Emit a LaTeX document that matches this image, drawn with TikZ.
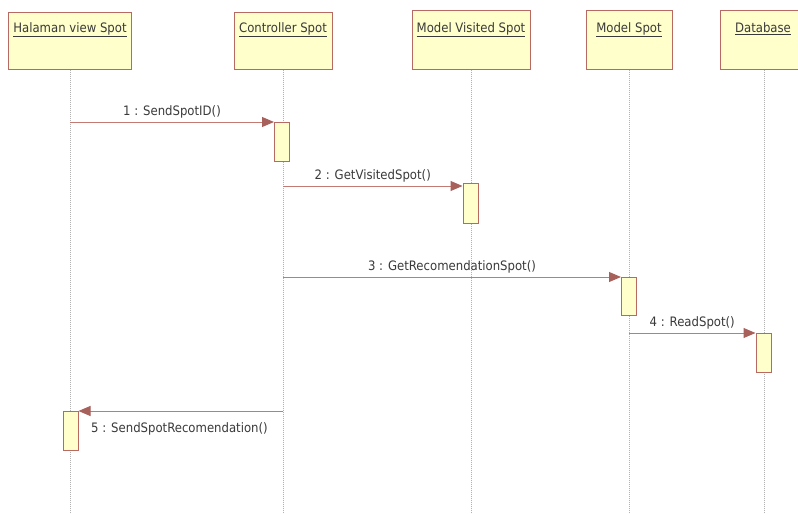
\documentclass[tikz,border=0pt]{standalone}
\usepackage{fontspec}
\setmainfont{DejaVu Sans Condensed}
\usetikzlibrary{arrows.meta}
\definecolor{boxfill}{HTML}{FFFFCC}
\definecolor{boxedge}{HTML}{B86A62}
\definecolor{msgline}{HTML}{C27A72}
\definecolor{msghead}{HTML}{A8605A}
\definecolor{txt}{HTML}{3A3A3A}
\tikzset{
  lifebox/.style={draw=boxedge, fill=boxfill, line width=1pt, inner sep=0pt},
  actbox/.style={draw=boxedge, fill=boxfill, line width=1pt, inner sep=0pt,
    minimum width=15pt},
  lifeline/.style={draw=gray!60, line width=0.8pt, dash pattern=on 1pt off 1pt},
  msg/.style={draw=msgline, line width=1pt,
    -{Triangle[length=12pt, width=10pt, fill=msghead, color=msghead]}},
  title/.style={text=txt, font=\fontsize{13}{15}\selectfont, inner sep=0pt,
    anchor=base},
  msglabel/.style={text=txt, font=\fontsize{13}{15}\selectfont, inner sep=0pt},
}
\newcommand{\uline}[1]{\underline{#1}}
\begin{document}
\begin{tikzpicture}[x=1pt, y=-1pt]
\useasboundingbox (0,0) rectangle (798,514);
\clip (0,0) rectangle (798,514);
\fill[white] (0,0) rectangle (798,514);

% object boxes
\node[lifebox, minimum width=123pt, minimum height=57pt] (hv) at (70,40.5) {};
\node[lifebox, minimum width=98pt, minimum height=57pt] (cs) at (283,40.5) {};
\node[lifebox, minimum width=118pt, minimum height=59pt] (mv) at (471,39.5) {};
\node[lifebox, minimum width=86pt, minimum height=59pt] (ms) at (629,39.5) {};
\node[lifebox, minimum width=88pt, minimum height=59pt] (db) at (764,39.5) {};

\node[title] (thv) at (70,32.5) {\uline{Halaman view Spot}};
\node[title] (tcs) at (283,32.5) {\uline{Controller Spot}};
\node[title] (tmv) at (471,32.5) {\uline{Model Visited Spot}};
\node[title] (tms) at (629,32.5) {\uline{Model Spot}};
\node[title] (tdb) at (763,32.5) {\uline{Database}};

% lifeline ends
\coordinate (ehv) at (70,514);
\coordinate (ecs) at (283,514);
\coordinate (emv) at (471,514);
\coordinate (ems) at (629,514);
\coordinate (edb) at (764,514);

\draw[lifeline] (hv.south) -- (ehv);
\draw[lifeline] (cs.south) -- (ecs);
\draw[lifeline] (mv.south) -- (emv);
\draw[lifeline] (ms.south) -- (ems);
\draw[lifeline] (db.south) -- (edb);

% activations
\node[actbox, minimum height=39pt, anchor=north] (a1) at (282,122) {};
\node[actbox, minimum height=40pt, anchor=north] (a2) at (470.5,183) {};
\node[actbox, minimum height=38pt, anchor=north] (a3) at (629,277) {};
\node[actbox, minimum height=39pt, anchor=north] (a4) at (763.5,333) {};
\node[actbox, minimum height=39pt, anchor=north] (a5) at (70.5,411) {};

% message start points on the lifelines
\coordinate (s1) at (70,122);
\coordinate (s2) at (283,186);
\coordinate (s3) at (283,277);
\coordinate (s4) at (629,333);
\coordinate (s5) at (283,411);

% messages
\draw[msg] (s1) -- (a1.north west) node[msglabel, midway, above=3.5pt] {1 : SendSpotID()};
\draw[msg] (s2) -- (s2 -| a2.west) node[msglabel, midway, above=3.5pt] {2 : GetVisitedSpot()};
\draw[msg] (s3) -- (a3.north west) node[msglabel, midway, above=3.5pt] {3 : GetRecomendationSpot()};
\draw[msg] (s4) -- (a4.north west) node[msglabel, midway, above=3.5pt] {4 : ReadSpot()};
\draw[msg] (s5) -- (a5.north east);
\node[msglabel, anchor=west] (l5) at (91,428.5) {5 : SendSpotRecomendation()};
\end{tikzpicture}
\end{document}
